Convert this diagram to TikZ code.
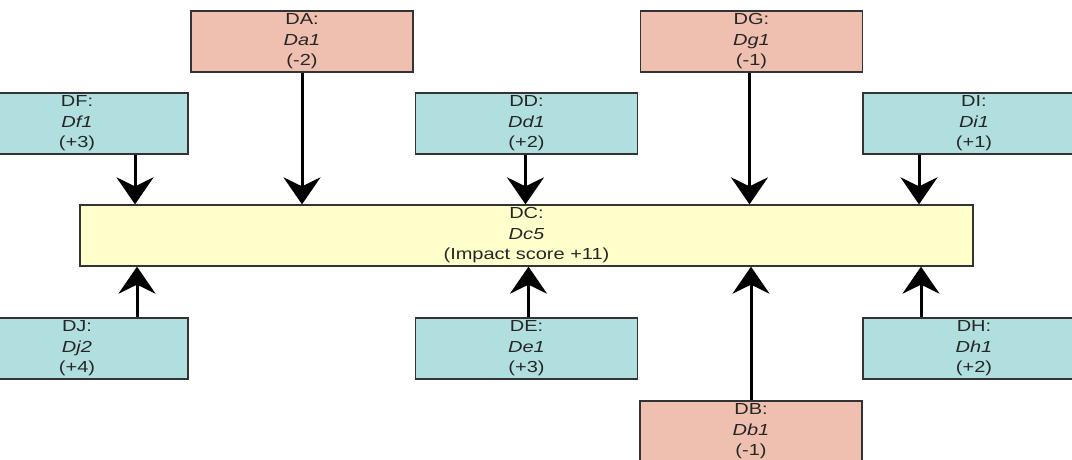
\documentclass[tikz,border=0pt]{standalone}
\usepackage{fontspec}
\setmainfont{Liberation Sans}[FakeStretch=1.25]
\usepackage{tikz}
\usetikzlibrary{arrows.meta}

\definecolor{boxblue}{HTML}{B1DFDF}
\definecolor{boxred}{HTML}{EFBFAF}
\definecolor{boxyel}{HTML}{FFFFCC}

\begin{document}
\begin{tikzpicture}[x=1pt, y=-1pt,
  box/.style={draw=black!80, line width=1.3pt, minimum width=222pt,
              minimum height=61pt, inner sep=0pt, align=center,
              font=\fontsize{16}{20.5}\selectfont, text=black!85},
  posb/.style={box, fill=boxblue},
  negb/.style={box, fill=boxred},
  core/.style={box, fill=boxyel, minimum width=893pt},
  conn/.style={line width=3pt, black,
               -{Stealth[length=27pt, width=37pt, inset=9pt]}}
]
\useasboundingbox (0,0) rectangle (1072,459);
% ---- boxes, top rows -----------------------------------------------------
\node[negb] (da) at (302, 41.5) {DA:\\ \textit{Da1}\\ (-2)};
\node[negb] (dg) at (751.5, 41.5) {DG:\\ \textit{Dg1}\\ (-1)};
\node[posb] (df) at (77, 123.5) {DF:\\ \textit{Df1}\\ (+3)};
\node[posb] (dd) at (526.5, 123.5) {DD:\\ \textit{Dd1}\\ (+2)};
\node[posb] (di) at (974, 123.5) {DI:\\ \textit{Di1}\\ (+1)};
% ---- central box -----------------------------------------------------------
\node[core] (dc) at (526.5, 235.5) {DC:\\ \textit{Dc5}\\ (Impact score +11)};
% ---- boxes, bottom rows ----------------------------------------------------
\node[posb] (dj) at (77, 348.5) {DJ:\\ \textit{Dj2}\\ (+4)};
\node[posb] (de) at (526.5, 348.5) {DE:\\ \textit{De1}\\ (+3)};
\node[posb] (dh) at (974, 348.5) {DH:\\ \textit{Dh1}\\ (+2)};
\node[negb] (db) at (751, 431.5) {DB:\\ \textit{Db1}\\ (-1)};

% ---- arrows into DC --------------------------------------------------------
\draw[conn] ([xshift=58pt]df.south) -- ([xshift=58pt]df.south |- dc.north);
\draw[conn] (da.south) -- (da.south |- dc.north);
\draw[conn] ([xshift=-1pt]dd.south) -- ([xshift=-1pt]dd.south |- dc.north);
\draw[conn] ([xshift=-2pt]dg.south) -- ([xshift=-2pt]dg.south |- dc.north);
\draw[conn] ([xshift=-55pt]di.south) -- ([xshift=-55pt]di.south |- dc.north);
\draw[conn] ([xshift=60pt]dj.north) -- ([xshift=60pt]dj.north |- dc.south);
\draw[conn] ([xshift=2pt]de.north) -- ([xshift=2pt]de.north |- dc.south);
\draw[conn] (db.north) -- (db.north |- dc.south);
\draw[conn] ([xshift=-53pt]dh.north) -- ([xshift=-53pt]dh.north |- dc.south);
\end{tikzpicture}
\end{document}
